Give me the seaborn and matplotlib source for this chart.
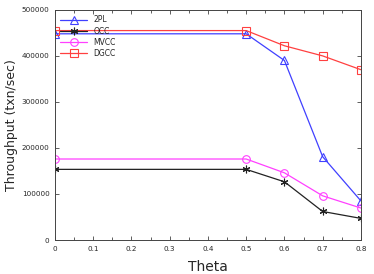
import matplotlib
matplotlib.use('Agg')
import matplotlib.pyplot as plt
import seaborn as sns
from matplotlib.ticker import MultipleLocator

# Valores
theta = [0, 0.5, 0.6, 0.7, 0.8]
tpl = [448000, 448000, 390000, 181000, 85000]
occ = [153500, 153500, 126500, 62000, 47000]
mvcc = [176000, 176000, 146000, 96000, 69500]
dgcc = [455000, 455000, 422000, 400000, 370000]
xticks = [0, 0.1, 0.2, 0.3, 0.4, 0.5, 0.6, 0.7, 0.8]
xtick_labels = ['0', '0.1', '0.2', '0.3', '0.4', '0.5', '0.6', '0.7', '0.8']

sns.set_style("ticks")
plt.rcParams['font.family'] = ['DejaVu Sans']

fig = plt.figure(figsize=(3.74, 2.74), dpi=100)
ax = fig.add_axes([0.147, 0.124, 0.818, 0.840])

series = [
    ('2PL', tpl, '#4040ff', '^'),
    ('OCC', occ, '#222222', (6, 2, 0)),
    ('MVCC', mvcc, '#ff40ff', 'o'),
    ('DGCC', dgcc, '#ff4040', 's'),
]
for nome, vals, cor, mk in series:
    sns.lineplot(x=theta, y=vals, ax=ax, color=cor, marker=mk, markersize=5.5,
                 markerfacecolor='none', markeredgecolor=cor, markeredgewidth=0.8,
                 linewidth=0.9, label=nome)

ax.set_xlim(0, 0.8)
ax.set_ylim(0, 500000)
ax.set_xticks(xticks)
ax.set_xticklabels(xtick_labels)
ax.xaxis.set_minor_locator(MultipleLocator(0.05))
ax.yaxis.set_major_locator(MultipleLocator(100000))
ax.tick_params(which='both', direction='in', top=True, right=True, labelsize=5.2, pad=4,
               color='#444444', width=0.6)
ax.tick_params(which='major', length=3)
ax.tick_params(which='minor', length=2)
for s in ax.spines.values():
    s.set_color('#444444')
    s.set_linewidth(0.7)
ax.set_xlabel('Theta', fontsize=10, labelpad=6)
ax.set_ylabel('Throughput (txn/sec)', fontsize=9, labelpad=3)

ax.legend(loc='upper left', frameon=False, fontsize=5.5, handlelength=3.5,
          labelspacing=0.3, borderaxespad=0.3, handletextpad=0.8)

fig.savefig('out.png', dpi=100)
